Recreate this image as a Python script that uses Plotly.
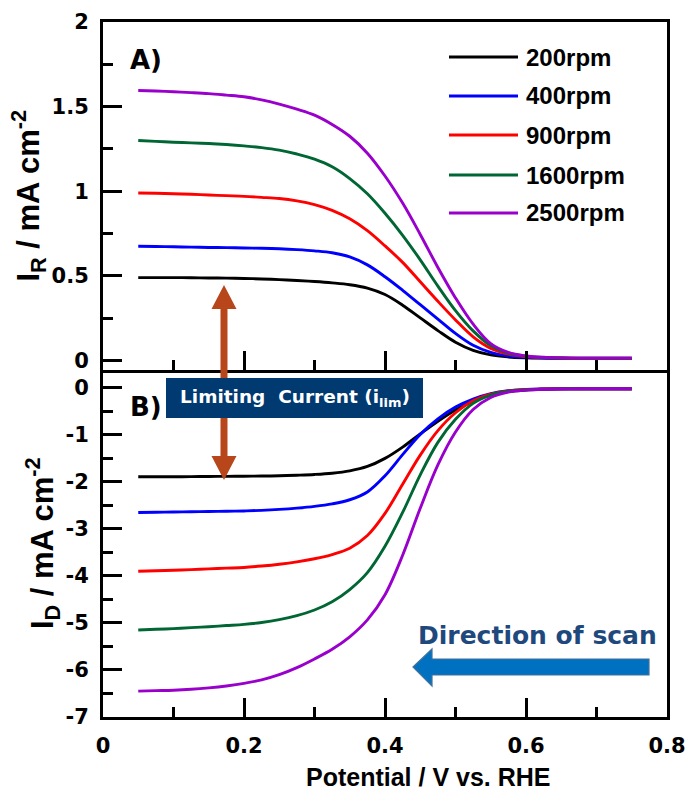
import plotly.graph_objects as go

# ---------------- data ----------------
potential = [0.05, 0.075, 0.10, 0.125, 0.15, 0.175, 0.20, 0.225, 0.25, 0.275, 0.30,
             0.325, 0.35, 0.375, 0.40, 0.425, 0.45, 0.475, 0.50, 0.525, 0.55, 0.575,
             0.60, 0.625, 0.65, 0.675, 0.70, 0.725, 0.75]

rpm_labels = ["200rpm", "400rpm", "900rpm", "1600rpm", "2500rpm"]
colors = ["#000000", "#0000ff", "#ff0000", "#006633", "#9900cc"]

# ring current I_R (mA cm^-2)
ring_200 = [0.49, 0.49, 0.49, 0.489, 0.488, 0.487, 0.485, 0.482, 0.478, 0.473, 0.467,
            0.459, 0.448, 0.428, 0.39, 0.327, 0.252, 0.177, 0.108, 0.06, 0.033, 0.021,
            0.016, 0.014, 0.013, 0.012, 0.012, 0.012, 0.012]
ring_400 = [0.675, 0.674, 0.672, 0.67, 0.668, 0.667, 0.665, 0.663, 0.66, 0.655, 0.648,
            0.637, 0.612, 0.565, 0.495, 0.415, 0.33, 0.245, 0.16, 0.09, 0.048, 0.027,
            0.019, 0.015, 0.013, 0.012, 0.012, 0.012, 0.012]
ring_900 = [0.99, 0.988, 0.985, 0.982, 0.978, 0.974, 0.97, 0.964, 0.957, 0.943, 0.921,
            0.887, 0.837, 0.767, 0.677, 0.58, 0.465, 0.35, 0.24, 0.14, 0.072, 0.038,
            0.023, 0.017, 0.015, 0.013, 0.013, 0.013, 0.013]
ring_1600 = [1.30, 1.295, 1.29, 1.286, 1.282, 1.276, 1.268, 1.258, 1.243, 1.22, 1.19,
             1.145, 1.075, 0.985, 0.87, 0.74, 0.595, 0.44, 0.295, 0.175, 0.088, 0.043,
             0.026, 0.018, 0.015, 0.014, 0.014, 0.014, 0.014]
ring_2500 = [1.595, 1.592, 1.588, 1.583, 1.577, 1.568, 1.558, 1.54, 1.515, 1.485, 1.45,
             1.395, 1.325, 1.225, 1.09, 0.93, 0.745, 0.55, 0.37, 0.215, 0.10, 0.048,
             0.027, 0.019, 0.016, 0.015, 0.015, 0.015, 0.015]

# disk current I_D (mA cm^-2)
disk_200 = [-1.89, -1.89, -1.89, -1.888, -1.885, -1.882, -1.88, -1.876, -1.87, -1.858, -1.842,
            -1.815, -1.765, -1.672, -1.50, -1.26, -0.98, -0.71, -0.47, -0.285, -0.155, -0.08,
            -0.045, -0.03, -0.022, -0.02, -0.02, -0.02, -0.02]
disk_400 = [-2.65, -2.645, -2.64, -2.635, -2.63, -2.625, -2.618, -2.605, -2.585, -2.558, -2.522,
            -2.468, -2.38, -2.215, -1.87, -1.42, -0.99, -0.66, -0.41, -0.24, -0.125, -0.062,
            -0.036, -0.025, -0.02, -0.02, -0.02, -0.02, -0.02]
disk_900 = [-3.90, -3.89, -3.88, -3.865, -3.85, -3.835, -3.82, -3.79, -3.752, -3.702, -3.635,
            -3.545, -3.41, -3.14, -2.67, -2.05, -1.43, -0.91, -0.53, -0.275, -0.135, -0.065,
            -0.037, -0.026, -0.021, -0.02, -0.02, -0.02, -0.02]
disk_1600 = [-5.15, -5.135, -5.12, -5.10, -5.08, -5.055, -5.03, -4.99, -4.93, -4.845, -4.725,
             -4.55, -4.29, -3.93, -3.37, -2.65, -1.85, -1.16, -0.67, -0.33, -0.155, -0.072,
             -0.04, -0.027, -0.022, -0.02, -0.02, -0.02, -0.02]
disk_2500 = [-6.45, -6.44, -6.43, -6.41, -6.38, -6.34, -6.285, -6.21, -6.10, -5.95, -5.765,
             -5.56, -5.295, -4.935, -4.40, -3.56, -2.56, -1.64, -0.94, -0.46, -0.205, -0.09,
             -0.048, -0.03, -0.024, -0.02, -0.02, -0.02, -0.02]

ring_currents = [ring_200, ring_400, ring_900, ring_1600, ring_2500]
disk_currents = [disk_200, disk_400, disk_900, disk_1600, disk_2500]

x_tickvals = [0, 0.2, 0.4, 0.6, 0.8]
x_ticktext = ["0", "0.2", "0.4", "0.6", "0.8"]
ring_tickvals = [0, 0.5, 1, 1.5, 2]
ring_ticktext = ["0", "0.5", "1", "1.5", "2"]
disk_tickvals = [0, -1, -2, -3, -4, -5, -6, -7]
disk_ticktext = ["0", "-1", "-2", "-3", "-4", "-5", "-6", "-7"]

# ---------------- layout geometry (pixels) ----------------
W, H = 689, 794
ML, MR, MT, MB = 103, 22, 22, 77
PW, PH = W - ML - MR, H - MT - MB


def px(x):
    return (x - ML) / PW


def py(y):
    return (H - MB - y) / PH


TICK_FONT = dict(family="DejaVu Sans", size=21, color="black", weight="bold")
SANS = "Liberation Sans, Arial, sans-serif"

fig = go.Figure()
for lab, col, r, d in zip(rpm_labels, colors, ring_currents, disk_currents):
    fig.add_trace(go.Scatter(x=potential, y=r, mode="lines", name=lab,
                             line=dict(color=col, width=2.9, shape="spline", smoothing=1.0),
                             xaxis="x2", yaxis="y2", showlegend=False))
    fig.add_trace(go.Scatter(x=potential, y=d, mode="lines", name=lab,
                             line=dict(color=col, width=2.9, shape="spline", smoothing=1.0),
                             xaxis="x", yaxis="y", showlegend=False))

axis_common = dict(showline=True, linewidth=3, linecolor="black",
                   ticks="inside", ticklen=19, tickwidth=2.5, tickcolor="black",
                   showgrid=False, zeroline=False, tickfont=TICK_FONT, tickmode="array")
minor_common = dict(ticks="inside", ticklen=10, tickwidth=2.5, tickcolor="black",
                    tickmode="linear", tick0=0)
ytitle_font = dict(family=SANS, size=31, color="black", weight="bold")

fig.update_layout(
    width=W, height=H,
    margin=dict(l=ML, r=MR, t=MT, b=MB, autoexpand=False),
    paper_bgcolor="white", plot_bgcolor="white",
    showlegend=False,
    xaxis=dict(axis_common, domain=[0, 1], anchor="y", range=[0, 0.8], mirror=False,
               tickvals=x_tickvals, ticktext=x_ticktext, ticklabelstandoff=8,
               minor=dict(minor_common, dtick=0.1)),
    yaxis=dict(axis_common, domain=[0, 0.5], anchor="x", range=[-7, 0.39], mirror=True,
               tickvals=disk_tickvals, ticktext=disk_ticktext, ticklabelstandoff=7,
               minor=dict(minor_common, dtick=0.5),
               title=dict(text="I<sub>D</sub> / mA cm<sup>-2</sup>", standoff=3,
                          font=ytitle_font)),
    xaxis2=dict(axis_common, domain=[0, 1], anchor="y2", range=[0, 0.8], matches="x",
                mirror=True, tickvals=x_tickvals, ticktext=x_ticktext, showticklabels=False,
                minor=dict(minor_common, dtick=0.1)),
    yaxis2=dict(axis_common, domain=[0.5, 1], anchor="x2", range=[-0.053, 2.0], mirror=True,
                tickvals=ring_tickvals, ticktext=ring_ticktext, ticklabelstandoff=7,
                minor=dict(minor_common, dtick=0.25),
                title=dict(text="I<sub>R</sub> / mA cm<sup>-2</sup>", standoff=3,
                           font=ytitle_font)),
)

shapes = []
annotations = []

# ---- legend (drawn manually) ----
legend_rows_y = [57, 96, 135, 175, 213]
for lab, col, yy in zip(rpm_labels, colors, legend_rows_y):
    shapes.append(dict(type="line", xref="paper", yref="paper",
                       x0=px(449), x1=px(518), y0=py(yy), y1=py(yy),
                       line=dict(color=col, width=3)))
    annotations.append(dict(xref="paper", yref="paper", x=px(524), y=py(yy),
                            xanchor="left", yanchor="middle", showarrow=False,
                            text=lab, font=dict(family=SANS, size=24, color="black",
                                                weight="bold")))

# ---- brown double-headed arrow ----
ax = 224
sw, hw = 3.5, 12.5
t_tip, t_base, b_base, b_tip = 285, 309, 456, 480
pts = [(ax - sw, t_base), (ax - hw, t_base), (ax, t_tip), (ax + hw, t_base), (ax + sw, t_base),
       (ax + sw, b_base), (ax + hw, b_base), (ax, b_tip), (ax - hw, b_base), (ax - sw, b_base)]
path = "M " + " L ".join(f"{px(a):.5f},{py(b):.5f}" for a, b in pts) + " Z"
shapes.append(dict(type="path", xref="paper", yref="paper", path=path,
                   fillcolor="#b8461b", line=dict(width=0), layer="above"))

# ---- label box ----
shapes.append(dict(type="rect", xref="paper", yref="paper",
                   x0=px(166), x1=px(423), y0=py(418), y1=py(378),
                   fillcolor="#003a70", line=dict(width=0), layer="above"))
annotations.append(dict(xref="paper", yref="paper", x=px(294.5), y=py(398),
                        xanchor="center", yanchor="middle", showarrow=False,
                        text="Limiting\u00a0 Current (i<sub>lim</sub>)",
                        font=dict(family="DejaVu Sans", size=18.5, color="white",
                                  weight="bold")))

# ---- blue scan-direction arrow ----
bpts = [(413, 667), (432, 649), (432, 659), (649, 659), (649, 675), (432, 675), (432, 686)]
bpath = "M " + " L ".join(f"{px(a):.5f},{py(b):.5f}" for a, b in bpts) + " Z"
shapes.append(dict(type="path", xref="paper", yref="paper", path=bpath,
                   fillcolor="#0070c0", line=dict(color="#41719c", width=1.2), layer="above"))
annotations.append(dict(xref="paper", yref="paper", x=px(537.5), y=py(635),
                        xanchor="center", yanchor="middle", showarrow=False,
                        text="Direction of scan",
                        font=dict(family="DejaVu Sans", size=25, color="#1f497d",
                                  weight="bold")))

# ---- panel labels ----
annotations.append(dict(xref="paper", yref="paper", x=px(146), y=py(60),
                        xanchor="center", yanchor="middle", showarrow=False, text="A)",
                        font=dict(family="DejaVu Sans", size=26, color="black", weight="bold")))
annotations.append(dict(xref="paper", yref="paper", x=px(146), y=py(407),
                        xanchor="center", yanchor="middle", showarrow=False, text="B)",
                        font=dict(family="DejaVu Sans", size=26, color="black", weight="bold")))

# ---- x-axis title ----
annotations.append(dict(xref="paper", yref="paper", x=px(428), y=py(777),
                        xanchor="center", yanchor="middle", showarrow=False,
                        text="Potential / V vs. RHE",
                        font=dict(family=SANS, size=25, color="black", weight="bold")))

fig.update_layout(shapes=shapes, annotations=annotations)
fig.write_html("out.html", config={"displayModeBar": False},
               post_script="document.body.style.margin='0px';")
